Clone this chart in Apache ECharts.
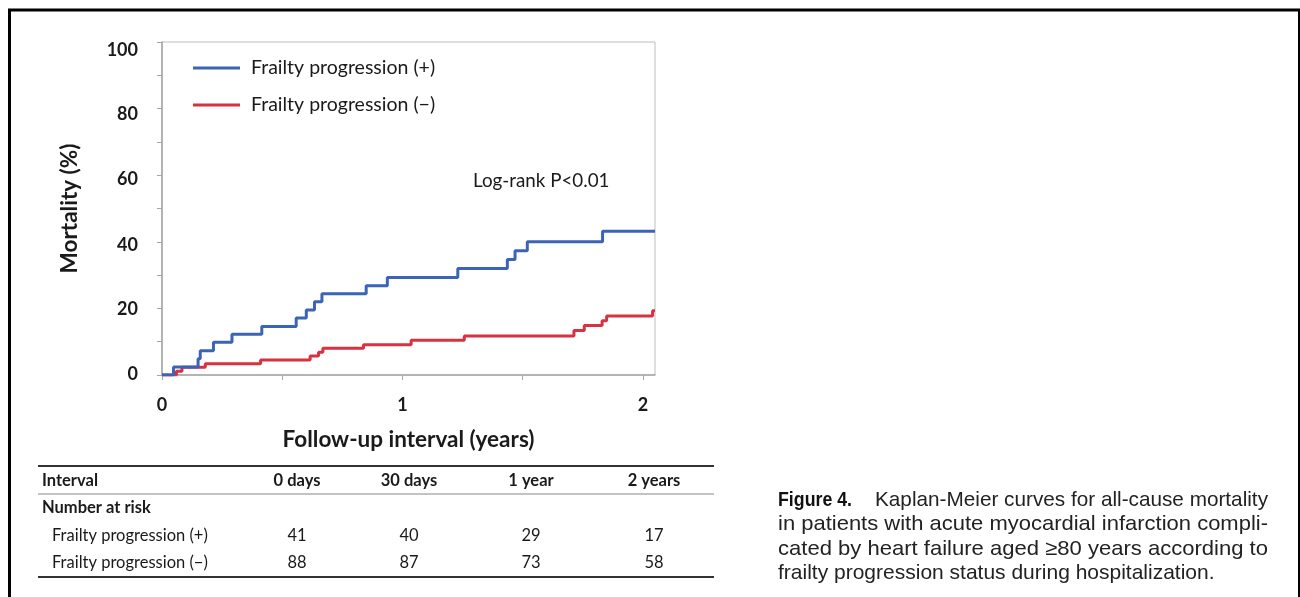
<!DOCTYPE html>
<html>
<head>
<meta charset="utf-8">
<script src="https://cdn.jsdelivr.net/npm/echarts@6/dist/echarts.min.js"></script>
<style>
html,body{margin:0;padding:0;background:#fff;}
#chart{width:1300px;height:597px;}
</style>
</head>
<body>
<div id="chart"></div>
<script>
// ---- data ----
const seriesNames = ['Frailty progression (+)', 'Frailty progression (\u2212)'];
const blueTimes  = [0, 0.048, 0.150, 0.159, 0.214, 0.291, 0.415, 0.558, 0.600, 0.634, 0.665, 0.849, 0.937, 1.230, 1.436, 1.468, 1.519, 1.832, 2.05];
const blueValues = [0, 2.4, 4.9, 7.3, 9.8, 12.2, 14.6, 17.1, 19.5, 22.0, 24.4, 26.8, 29.3, 32.0, 34.7, 37.3, 40.0, 43.2, 43.2];
const redTimes   = [0, 0.060, 0.083, 0.180, 0.410, 0.616, 0.651, 0.669, 0.838, 1.036, 1.257, 1.713, 1.756, 1.830, 1.849, 2.040, 2.05];
const redValues  = [0, 1.1, 2.3, 3.4, 4.5, 5.7, 6.8, 8.0, 9.1, 10.4, 11.7, 13.4, 14.9, 16.3, 17.7, 19.3, 19.3];
const yTickLabels = [0, 20, 40, 60, 80, 100];
const xTickLabels = [0, 1, 2];
const tableHeader = ['Interval', '0 days', '30 days', '1 year', '2 years'];
const riskPlus  = [41, 40, 29, 17];
const riskMinus = [88, 87, 73, 58];
const captionLabel = 'Figure 4.';
const captionLines = [
  'Kaplan-Meier curves for all-cause mortality',
  'in patients with acute myocardial infarction compli-',
  'cated by heart failure aged \u226580 years according to',
  'frailty progression status during hospitalization.'
];

// ---- chart ----
const chart = echarts.init(document.getElementById('chart'));
const FONT = 'Lato';
const TXT = '#1a1a1a';
const AX = '#a6a6a6';
const pairs = (t, v) => t.map((x, i) => [x, v[i]]);
const measureCtx = document.createElement('canvas').getContext('2d');
function measure(font, t) { measureCtx.font = font; return measureCtx.measureText(t).width; }

const colX = [297, 409, 531, 654];
const els = [];
function line(x1, y1, x2, y2, w, c) {
  els.push({type: 'line', shape: {x1, y1, x2, y2}, style: {stroke: c, lineWidth: w}, silent: true});
}
const TFONT = '16.5px ' + FONT, TBFONT = 'bold 16.5px ' + FONT;
function text(x, y, t, opt) {
  els.push({type: 'text', x, y, style: Object.assign({text: t, fill: TXT, font: TFONT, textVerticalAlign: 'middle'}, opt || {}), silent: true});
}
line(38, 466, 714, 466, 2, '#333');
line(38, 494, 714, 494, 1, '#888');
line(38, 577, 714, 577, 2, '#333');
text(42, 481, tableHeader[0], {font: TBFONT});
tableHeader.slice(1).forEach((h, i) => text(colX[i], 481, h, {font: TBFONT, textAlign: 'center'}));
text(42, 508, 'Number at risk', {font: TBFONT});
text(52, 536, seriesNames[0]);
text(52, 563, seriesNames[1]);
riskPlus.forEach((v, i) => text(colX[i], 536, String(v), {textAlign: 'center'}));
riskMinus.forEach((v, i) => text(colX[i], 563, String(v), {textAlign: 'center'}));

// caption
const figFont = 'bold 20px "Liberation Sans"';
const figW = measure(figFont, captionLabel);
els.push({type: 'text', x: 778, y: 500, scaleX: 74 / figW,
  style: {text: captionLabel, fill: '#111', font: figFont, textVerticalAlign: 'middle'}, silent: true});
const capFont = '21px "Liberation Sans"';
const capX = [875, 778, 778, 778];
const capY = [500, 524, 549, 573];
const capRight = 1268;
captionLines.forEach((t, i) => {
  const w = measure(capFont, t);
  const justify = i < captionLines.length - 1;
  const sx = justify ? (capRight - capX[i]) / w : 1;
  els.push({type: 'text', x: capX[i], y: capY[i], scaleX: sx,
    style: {text: t, fill: '#222', font: capFont, textVerticalAlign: 'middle'}, silent: true});
});

// page borders
els.push({type: 'line', shape: {x1: 8, y1: 10, x2: 1300, y2: 10}, style: {stroke: '#000', lineWidth: 3}, silent: true});
els.push({type: 'line', shape: {x1: 9.5, y1: 9, x2: 9.5, y2: 597}, style: {stroke: '#000', lineWidth: 3}, silent: true});
els.push({type: 'line', shape: {x1: 1299, y1: 9, x2: 1299, y2: 597}, style: {stroke: '#000', lineWidth: 2}, silent: true});

// log-rank
els.push({type: 'text', x: 473, y: 181, style: {text: 'Log-rank P<0.01', fill: TXT, font: '18.8px ' + FONT, textVerticalAlign: 'middle'}, silent: true});

// y label vertical nudges (rendering offsets in the reference)
const yRich = {};
yTickLabels.forEach(v => {
  const s = Math.round((v / 100) * 9 - 1);
  yRich['v' + v] = {fontFamily: FONT, fontWeight: 'bold', fontSize: 18, color: TXT,
    padding: s >= 0 ? [2 * s, 0, 0, 0] : [0, 0, -2 * s, 0]};
});

chart.setOption({
  animation: false,
  backgroundColor: '#fff',
  grid: {left: 162, right: 645, top: 42, bottom: 222, show: true, borderColor: '#bdbdbd', borderWidth: 1, containLabel: false},
  legend: {
    orient: 'vertical', left: 193, top: 58, padding: 0, itemWidth: 47, itemHeight: 20, itemGap: 17,
    icon: 'path://M0,8.5 L47,8.5 L47,11.5 L0,11.5 Z',
    textStyle: {fontFamily: FONT, fontSize: 19.5, color: TXT, padding: [0, 0, 0, 6]},
    data: seriesNames
  },
  xAxis: {
    type: 'value', min: 0, max: 2.05, interval: 0.5,
    name: 'Follow-up interval (years)', nameLocation: 'middle', nameGap: 53,
    nameTextStyle: {fontFamily: FONT, fontWeight: 'bold', fontSize: 22.5, color: TXT},
    axisLine: {show: true, lineStyle: {color: AX, width: 1.5}},
    axisTick: {show: true, inside: false, length: 5, lineStyle: {color: AX}},
    splitLine: {show: false},
    axisLabel: {margin: 21, fontFamily: FONT, fontWeight: 'bold', fontSize: 18, color: TXT, showMaxLabel: false,
      formatter: v => xTickLabels.includes(v) ? String(v) : ''}
  },
  yAxis: {
    type: 'value', min: 0, max: 100, interval: 10,
    name: 'Mortality (%)', nameLocation: 'middle', nameGap: 81, nameRotate: 90,
    nameTextStyle: {fontFamily: FONT, fontWeight: 'bold', fontSize: 22.5, color: TXT},
    axisLine: {show: true, lineStyle: {color: AX, width: 1.5}},
    axisTick: {show: true, inside: false, length: 5, lineStyle: {color: AX}},
    splitLine: {show: false},
    axisLabel: {margin: 24, fontFamily: FONT, fontWeight: 'bold', fontSize: 18, color: TXT, rich: yRich,
      formatter: v => yTickLabels.includes(v) ? '{v' + v + '|' + v + '}' : ''}
  },
  series: [
    {name: seriesNames[0], type: 'line', step: 'end', symbol: 'none', data: pairs(blueTimes, blueValues),
      lineStyle: {color: '#3c64b6', width: 3}, itemStyle: {color: '#3c64b6'}, z: 3},
    {name: seriesNames[1], type: 'line', step: 'end', symbol: 'none', data: pairs(redTimes, redValues),
      lineStyle: {color: '#d8313f', width: 3}, itemStyle: {color: '#d8313f'}, z: 2}
  ],
  graphic: {elements: els}
});
</script>
</body>
</html>
